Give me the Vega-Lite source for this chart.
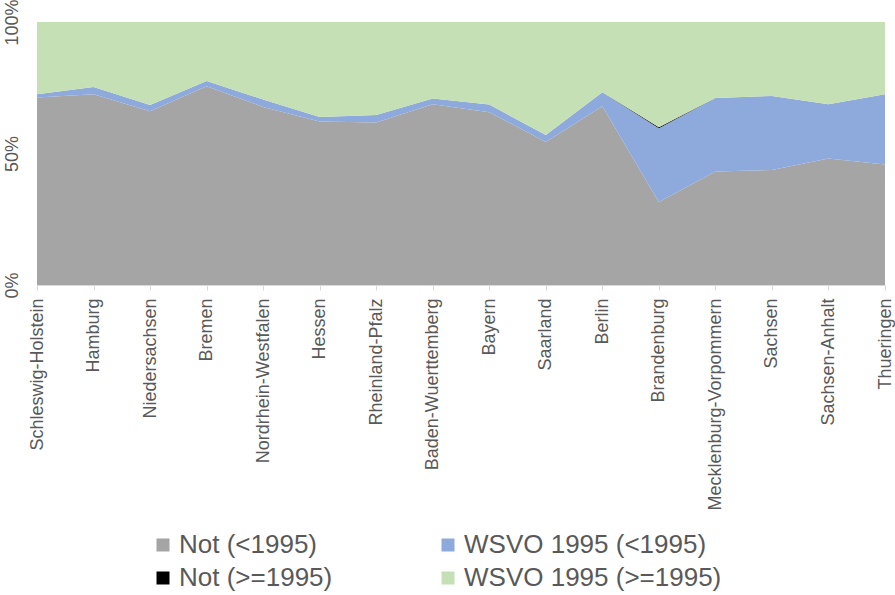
{
  "$schema": "https://vega.github.io/schema/vega-lite/v6.json",
  "autosize": {"type": "none"},
  "padding": {"left": 37, "top": 22, "right": 10, "bottom": 310},
  "width": 848,
  "height": 263,
  "background": "white",
  "config": {
    "font": "Liberation Sans",
    "view": {"stroke": null}
  },
  "data": {
    "values": [
      {"state": "Schleswig-Holstein", "series": "Not (<1995)", "k": 1, "value": 71.3},
      {"state": "Schleswig-Holstein", "series": "WSVO 1995 (<1995)", "k": 2, "value": 1.2},
      {"state": "Schleswig-Holstein", "series": "Not (>=1995)", "k": 3, "value": 0},
      {"state": "Schleswig-Holstein", "series": "WSVO 1995 (>=1995)", "k": 4, "value": 27.5},
      {"state": "Hamburg", "series": "Not (<1995)", "k": 1, "value": 72.5},
      {"state": "Hamburg", "series": "WSVO 1995 (<1995)", "k": 2, "value": 2.8},
      {"state": "Hamburg", "series": "Not (>=1995)", "k": 3, "value": 0},
      {"state": "Hamburg", "series": "WSVO 1995 (>=1995)", "k": 4, "value": 24.7},
      {"state": "Niedersachsen", "series": "Not (<1995)", "k": 1, "value": 66.1},
      {"state": "Niedersachsen", "series": "WSVO 1995 (<1995)", "k": 2, "value": 2.3},
      {"state": "Niedersachsen", "series": "Not (>=1995)", "k": 3, "value": 0},
      {"state": "Niedersachsen", "series": "WSVO 1995 (>=1995)", "k": 4, "value": 31.6},
      {"state": "Bremen", "series": "Not (<1995)", "k": 1, "value": 75.6},
      {"state": "Bremen", "series": "WSVO 1995 (<1995)", "k": 2, "value": 2.0},
      {"state": "Bremen", "series": "Not (>=1995)", "k": 3, "value": 0},
      {"state": "Bremen", "series": "WSVO 1995 (>=1995)", "k": 4, "value": 22.4},
      {"state": "Nordrhein-Westfalen", "series": "Not (<1995)", "k": 1, "value": 67.7},
      {"state": "Nordrhein-Westfalen", "series": "WSVO 1995 (<1995)", "k": 2, "value": 2.8},
      {"state": "Nordrhein-Westfalen", "series": "Not (>=1995)", "k": 3, "value": 0},
      {"state": "Nordrhein-Westfalen", "series": "WSVO 1995 (>=1995)", "k": 4, "value": 29.5},
      {"state": "Hessen", "series": "Not (<1995)", "k": 1, "value": 62.2},
      {"state": "Hessen", "series": "WSVO 1995 (<1995)", "k": 2, "value": 1.7},
      {"state": "Hessen", "series": "Not (>=1995)", "k": 3, "value": 0},
      {"state": "Hessen", "series": "WSVO 1995 (>=1995)", "k": 4, "value": 36.1},
      {"state": "Rheinland-Pfalz", "series": "Not (<1995)", "k": 1, "value": 61.8},
      {"state": "Rheinland-Pfalz", "series": "WSVO 1995 (<1995)", "k": 2, "value": 2.8},
      {"state": "Rheinland-Pfalz", "series": "Not (>=1995)", "k": 3, "value": 0},
      {"state": "Rheinland-Pfalz", "series": "WSVO 1995 (>=1995)", "k": 4, "value": 35.4},
      {"state": "Baden-Wuerttemberg", "series": "Not (<1995)", "k": 1, "value": 68.7},
      {"state": "Baden-Wuerttemberg", "series": "WSVO 1995 (<1995)", "k": 2, "value": 2.2},
      {"state": "Baden-Wuerttemberg", "series": "Not (>=1995)", "k": 3, "value": 0},
      {"state": "Baden-Wuerttemberg", "series": "WSVO 1995 (>=1995)", "k": 4, "value": 29.1},
      {"state": "Bayern", "series": "Not (<1995)", "k": 1, "value": 65.7},
      {"state": "Bayern", "series": "WSVO 1995 (<1995)", "k": 2, "value": 2.9},
      {"state": "Bayern", "series": "Not (>=1995)", "k": 3, "value": 0},
      {"state": "Bayern", "series": "WSVO 1995 (>=1995)", "k": 4, "value": 31.4},
      {"state": "Saarland", "series": "Not (<1995)", "k": 1, "value": 54.4},
      {"state": "Saarland", "series": "WSVO 1995 (<1995)", "k": 2, "value": 2.6},
      {"state": "Saarland", "series": "Not (>=1995)", "k": 3, "value": 0},
      {"state": "Saarland", "series": "WSVO 1995 (>=1995)", "k": 4, "value": 43.0},
      {"state": "Berlin", "series": "Not (<1995)", "k": 1, "value": 68.0},
      {"state": "Berlin", "series": "WSVO 1995 (<1995)", "k": 2, "value": 5.3},
      {"state": "Berlin", "series": "Not (>=1995)", "k": 3, "value": 0},
      {"state": "Berlin", "series": "WSVO 1995 (>=1995)", "k": 4, "value": 26.7},
      {"state": "Brandenburg", "series": "Not (<1995)", "k": 1, "value": 31.6},
      {"state": "Brandenburg", "series": "WSVO 1995 (<1995)", "k": 2, "value": 28.0},
      {"state": "Brandenburg", "series": "Not (>=1995)", "k": 3, "value": 0.4},
      {"state": "Brandenburg", "series": "WSVO 1995 (>=1995)", "k": 4, "value": 40.0},
      {"state": "Mecklenburg-Vorpommern", "series": "Not (<1995)", "k": 1, "value": 43.2},
      {"state": "Mecklenburg-Vorpommern", "series": "WSVO 1995 (<1995)", "k": 2, "value": 27.9},
      {"state": "Mecklenburg-Vorpommern", "series": "Not (>=1995)", "k": 3, "value": 0},
      {"state": "Mecklenburg-Vorpommern", "series": "WSVO 1995 (>=1995)", "k": 4, "value": 28.9},
      {"state": "Sachsen", "series": "Not (<1995)", "k": 1, "value": 43.7},
      {"state": "Sachsen", "series": "WSVO 1995 (<1995)", "k": 2, "value": 28.2},
      {"state": "Sachsen", "series": "Not (>=1995)", "k": 3, "value": 0},
      {"state": "Sachsen", "series": "WSVO 1995 (>=1995)", "k": 4, "value": 28.1},
      {"state": "Sachsen-Anhalt", "series": "Not (<1995)", "k": 1, "value": 48.1},
      {"state": "Sachsen-Anhalt", "series": "WSVO 1995 (<1995)", "k": 2, "value": 20.6},
      {"state": "Sachsen-Anhalt", "series": "Not (>=1995)", "k": 3, "value": 0},
      {"state": "Sachsen-Anhalt", "series": "WSVO 1995 (>=1995)", "k": 4, "value": 31.3},
      {"state": "Thueringen", "series": "Not (<1995)", "k": 1, "value": 45.8},
      {"state": "Thueringen", "series": "WSVO 1995 (<1995)", "k": 2, "value": 26.7},
      {"state": "Thueringen", "series": "Not (>=1995)", "k": 3, "value": 0},
      {"state": "Thueringen", "series": "WSVO 1995 (>=1995)", "k": 4, "value": 27.5}
    ]
  },
  "mark": {"type": "area", "interpolate": "linear"},
  "encoding": {
    "x": {
      "field": "state",
      "type": "nominal",
      "sort": null,
      "scale": {"padding": 0},
      "axis": {
        "title": null,
        "labelAngle": -90,
        "labelAlign": "right",
        "labelBaseline": "middle",
        "labelFontSize": 18,
        "labelColor": "#595959",
        "labelPadding": 8,
        "labelLimit": 400,
        "tickSize": 5,
        "tickColor": "#D9D9D9",
        "domainColor": "#D9D9D9",
        "grid": false,
        "labelOverlap": false
      }
    },
    "y": {
      "field": "value",
      "type": "quantitative",
      "stack": "normalize",
      "scale": {"domain": [0, 1]},
      "axis": {
        "title": null,
        "values": [0, 0.5, 1],
        "format": ".0%",
        "labelAngle": -90,
        "labelAlign": "center",
        "labelBaseline": "bottom",
        "labelFontSize": 18,
        "labelColor": "#595959",
        "labelPadding": 16,
        "ticks": false,
        "domain": false,
        "grid": false
      }
    },
    "order": {"field": "k", "type": "quantitative", "sort": "ascending"},
    "color": {
      "field": "series",
      "type": "nominal",
      "scale": {
        "domain": ["Not (<1995)", "Not (>=1995)", "WSVO 1995 (<1995)", "WSVO 1995 (>=1995)"],
        "range": ["#A5A5A5", "#000000", "#8EA9DB", "#C5E0B4"]
      },
      "legend": {
        "title": null,
        "orient": "none",
        "legendX": 113,
        "legendY": 510,
        "columns": 2,
        "columnPadding": 102,
        "rowPadding": 7,
        "symbolType": "square",
        "symbolSize": 169,
        "symbolStrokeWidth": 0,
        "symbolOpacity": 1,
        "symbolOffset": 0,
        "labelOffset": 3,
        "labelFontSize": 26,
        "labelColor": "#595959",
        "labelLimit": 400
      }
    }
  }
}
